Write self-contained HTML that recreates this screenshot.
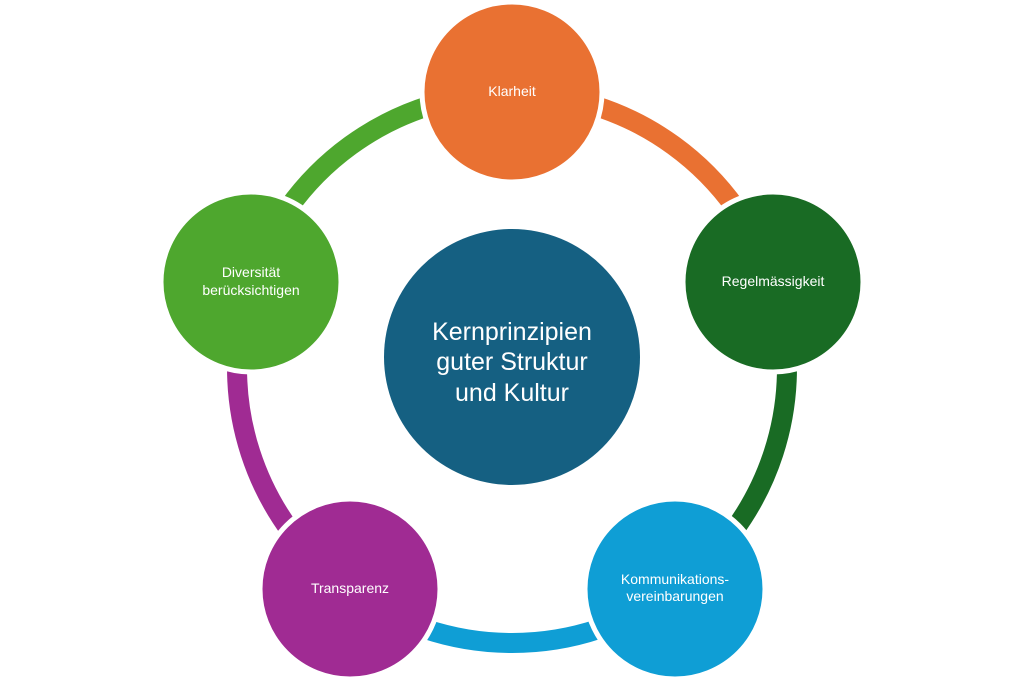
<!DOCTYPE html>
<html><head><meta charset="utf-8"><style>
html,body{margin:0;padding:0;background:#fff;}
svg{display:block;font-family:"Liberation Sans",sans-serif;}
</style></head><body>
<svg width="1024" height="683" viewBox="0 0 1024 683" xmlns="http://www.w3.org/2000/svg">
<g fill="none" stroke-width="20">
<path d="M512 93 A275 275 0 0 1 773.5 283" stroke="#E97132"/>
<path d="M773.5 283 A275 275 0 0 1 673.6 590.5" stroke="#196B24"/>
<path d="M673.6 590.5 A275 275 0 0 1 350.4 590.5" stroke="#0F9ED5"/>
<path d="M350.4 590.5 A275 275 0 0 1 250.5 283" stroke="#A02B93"/>
<path d="M250.5 283 A275 275 0 0 1 512 93" stroke="#4EA72E"/>
</g>
<g stroke="#fff" stroke-width="5">
<circle cx="512" cy="357" r="128" fill="#156082" stroke="none"/>
<circle cx="512" cy="92" r="90" fill="#E97132"/>
<circle cx="773" cy="282" r="90" fill="#196B24"/>
<circle cx="675" cy="589" r="90" fill="#0F9ED5"/>
<circle cx="350" cy="589" r="90" fill="#A02B93"/>
<circle cx="251" cy="282" r="90" fill="#4EA72E"/>
</g>
<g fill="#fff" text-anchor="middle" font-size="14">
<text x="512" y="96">Klarheit</text>
<text x="773" y="286">Regelmässigkeit</text>
<text x="675" y="584">Kommunikations-</text>
<text x="675" y="601">vereinbarungen</text>
<text x="350" y="593">Transparenz</text>
<text x="251" y="277">Diversität</text>
<text x="251" y="295">berücksichtigen</text>
<g font-size="25">
<text x="512" y="340">Kernprinzipien</text>
<text x="512" y="370">guter Struktur</text>
<text x="512" y="401">und Kultur</text>
</g>
</g>
</svg>
</body></html>
